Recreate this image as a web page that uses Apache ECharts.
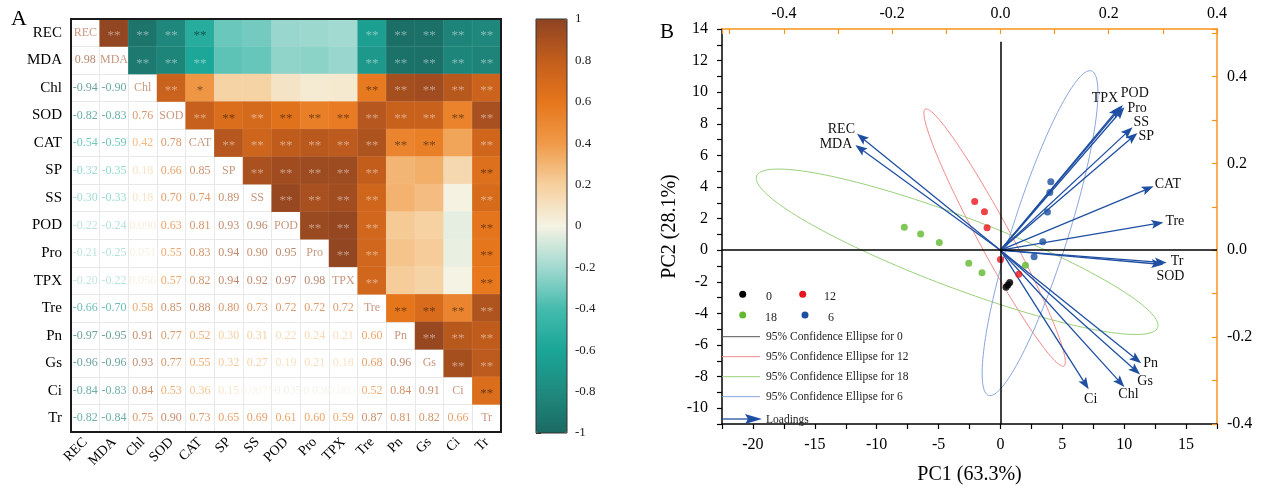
<!DOCTYPE html>
<html><head><meta charset="utf-8">
<script src="https://cdn.jsdelivr.net/npm/echarts@6/dist/echarts.min.js"></script>
<style>html,body{margin:0;padding:0;background:#fff}#c{width:1261px;height:490px}</style>
</head><body><div id="c"></div>
<script>
// ---------------- Panel A data ----------------
const vars = ['REC','MDA','Chl','SOD','CAT','SP','SS','POD','Pro','TPX','Tre','Pn','Gs','Ci','Tr'];
const corrLower = [
 [],
 [0.98],
 [-0.94,-0.90],
 [-0.82,-0.83,0.76],
 [-0.54,-0.59,0.42,0.78],
 [-0.32,-0.35,0.18,0.66,0.85],
 [-0.30,-0.33,0.18,0.70,0.74,0.89],
 [-0.22,-0.24,0.090,0.63,0.81,0.93,0.96],
 [-0.21,-0.25,0.051,0.55,0.83,0.94,0.90,0.95],
 [-0.20,-0.22,0.056,0.57,0.82,0.94,0.92,0.97,0.98],
 [-0.66,-0.70,0.58,0.85,0.88,0.80,0.73,0.72,0.72,0.72],
 [-0.97,-0.95,0.91,0.77,0.52,0.30,0.31,0.22,0.24,0.21,0.60],
 [-0.96,-0.96,0.93,0.77,0.55,0.32,0.27,0.19,0.21,0.18,0.68,0.96],
 [-0.84,-0.83,0.84,0.53,0.36,0.15,0.0071,-0.035,-0.030,-0.0032,0.52,0.84,0.91],
 [-0.82,-0.84,0.75,0.90,0.73,0.65,0.69,0.61,0.60,0.59,0.87,0.81,0.82,0.66]
];
const colorbarMin = -1, colorbarMax = 1, colorbarStep = 0.2;

// ---------------- Panel B data ----------------
const groupNames = ['0','12','18','6'];
const scores0  = [[0.45,-2.35],[0.6,-2.2],[0.75,-2.05]];
const scores12 = [[-2.08,3.09],[-1.29,2.44],[-1.08,1.42],[0.0,-0.59],[1.48,-1.53]];
const scores18 = [[-7.77,1.45],[-6.45,1.03],[-4.94,0.49],[-2.56,-0.82],[-1.49,-1.42],[2.02,-0.95]];
const scores6  = [[4.07,4.33],[3.99,3.65],[3.8,2.42],[3.42,0.53],[2.72,-0.41]];
const ellipseCenter = [[0.6,-2.2],[-0.47,0.8],[-3.5,-0.1],[3.2,1.08]];
const ellipseAxisA  = [[0.32,0.19],[5.6,-8.13],[16.2,-4.8],[4.15,10.27]];
const ellipseAxisB  = [[-0.1,0.12],[1.14,0.47],[1.05,2.09],[2.16,-0.52]];
const loadNames = ['REC','MDA','TPX','POD','Pro','SS','SP','CAT','Tre','Tr','SOD','Pn','Gs','Chl','Ci'];
const loadPC1 = [-0.265,-0.268,0.221,0.226,0.229,0.244,0.253,0.283,0.301,0.307,0.301,0.260,0.258,0.229,0.163];
const loadPC2 = [0.268,0.242,0.331,0.334,0.329,0.283,0.270,0.147,0.064,-0.029,-0.033,-0.260,-0.286,-0.315,-0.320];
const pc1Name = 'PC1 (63.3%)', pc2Name = 'PC2 (28.1%)';

// ---------------- styles ----------------
const serif = '"Liberation Serif","Times New Roman",serif';
const stops = ['#1a6a62','#1f8a7f','#1aa697','#45bbad','#a2d9d0','#f5f3e4','#f6cf9e','#f09a48','#e6761c','#c25d1c','#8d4322'];
const groupColors = ['#000000','#e8141c','#62b92e','#1c4fa0'];
const ellipseColors = ['#333333','#f28a8c','#9ad07a','#8aa6dc'];
const arrowColor = '#1f4fa3';
const orange = '#f7941d';
const loadLabelStyle = {
 REC:{align:'right',dx:-2,dy:-4}, MDA:{align:'right',dx:-3,dy:-1},
 TPX:{align:'right',dx:-2,dy:-8}, POD:{align:'left',dx:-2,dy:-12},
 Pro:{align:'left',dx:3,dy:1}, SS:{align:'left',dx:1,dy:-5},
 SP:{align:'left',dx:1,dy:3}, CAT:{align:'left',dx:1,dy:-2},
 Tre:{align:'left',dx:2,dy:-1}, Tr:{align:'left',dx:4,dy:-1},
 SOD:{align:'center',dx:7,dy:12}, Pn:{align:'left',dx:2,dy:0},
 Gs:{align:'center',dx:5,dy:7}, Chl:{align:'center',dx:4,dy:7},
 Ci:{align:'center',dx:2,dy:10}
};

function hex2rgb(h){return [parseInt(h.slice(1,3),16),parseInt(h.slice(3,5),16),parseInt(h.slice(5,7),16)];}
function colorAt(v, alpha){
  const t=(v+1)/2*(stops.length-1);
  const i=Math.min(stops.length-2,Math.max(0,Math.floor(t))); const f=t-i;
  const a=hex2rgb(stops[i]), b=hex2rgb(stops[i+1]);
  const c=a.map((x,k)=>Math.round(x+(b[k]-x)*f));
  return 'rgba('+c.join(',')+','+alpha+')';
}
function fmt(v){ return Math.abs(v)>=0.1 ? v.toFixed(2) : v.toPrecision(2); }

// full matrix
const n = vars.length;
const R = vars.map((_,i)=>vars.map((_,j)=> i===j?1:(i>j?corrLower[i][j]:corrLower[j][i])));
const heatData=[], starData=[], numData=[], diagData=[];
for(let i=0;i<n;i++) for(let j=0;j<n;j++){
  const r=R[i][j];
  if(j>i){
    heatData.push([j,i,r]);
    const a=Math.abs(r);
    if(a>=0.4){
      const light = (r>=0.69 || r<=-0.55);
      starData.push({value:[j,i], star: a>=0.5?'**':'*', label:{color: light?'rgba(255,255,255,0.55)':'rgba(0,0,0,0.62)'}});
    }
  } else if(j<i){
    numData.push({value:[j,i], txt: fmt(r), label:{color: colorAt(r,0.82)}});
  } else {
    diagData.push({value:[j,i], txt: vars[i]});
  }
}

const chart = echarts.init(document.getElementById('c'));
const textLabel = (size)=>({show:true, position:'inside', fontFamily:serif, fontSize:size, formatter:p=>p.data.txt});

const option = {
  animation:false,
  backgroundColor:'#fff',
  grid:[
    {left:71, top:19, width:430, height:413, containLabel:false},
    {left:722, top:29, width:495, height:400, containLabel:false},
    {left:536, top:19, width:31, height:414, containLabel:false}
  ],
  xAxis:[
    {type:'category', gridIndex:0, data:vars, position:'bottom',
     axisLine:{show:false}, axisTick:{show:false},
     splitLine:{show:true, lineStyle:{color:'#e8e8e8', width:1}},
     axisLabel:{rotate:45, fontFamily:serif, fontSize:14, color:'#000', margin:8, interval:0}},
    {type:'value', gridIndex:1, position:'bottom', min:-22.5, max:17.5, interval:2.5,
     axisLine:{show:true, onZero:false, lineStyle:{color:'#000', width:1.5}},
     axisTick:{show:true, inside:false, length:5, lineStyle:{color:'#000', width:1.2}},
     splitLine:{show:false},
     axisLabel:{fontFamily:serif, fontSize:16, color:'#000', margin:13,
       formatter:v=> (Math.abs(v/5-Math.round(v/5))<1e-6 ? String(Math.round(v)) : '')},
     name:pc1Name, nameLocation:'middle', nameGap:41, nameTextStyle:{fontFamily:serif, fontSize:20, color:'#000'}},
    {type:'value', gridIndex:1, position:'top', min:-0.4*22.5/17.5, max:0.4, splitNumber:9,
     axisLine:{show:true, onZero:false, lineStyle:{color:orange, width:1.5}},
     axisTick:{show:true, inside:true, length:5, lineStyle:{color:orange, width:1.2}},
     splitLine:{show:false},
     axisLabel:{fontFamily:serif, fontSize:16, color:'#000', margin:7,
       formatter:v=>{const k=v/0.2; return Math.abs(k-Math.round(k))<1e-6 ? (Math.abs(v)<1e-9?0:v).toFixed(1) : '';}}},
    {type:'value', gridIndex:2, min:0, max:1, show:false}
  ],
  yAxis:[
    {type:'category', gridIndex:0, data:vars, inverse:true,
     axisLine:{show:false}, axisTick:{show:false},
     splitLine:{show:true, lineStyle:{color:'#e8e8e8', width:1}},
     axisLabel:{fontFamily:serif, fontSize:15, color:'#000', margin:9, interval:0}},
    {type:'value', gridIndex:1, position:'left', min:-11, max:14, interval:1,
     axisLine:{show:true, onZero:false, lineStyle:{color:'#000', width:1.5}},
     axisTick:{show:true, inside:false, length:5, lineStyle:{color:'#000', width:1.2}},
     splitLine:{show:false},
     axisLabel:{fontFamily:serif, fontSize:16, color:'#000', margin:14,
       formatter:v=> (Math.round(v)%2===0 ? String(Math.round(v)) : '')},
     name:pc2Name, nameLocation:'middle', nameGap:42, nameRotate:90, nameTextStyle:{fontFamily:serif, fontSize:20, color:'#000'}},
    {type:'value', gridIndex:1, position:'right', min:-0.4, max:0.4*14/11, splitNumber:9,
     axisLine:{show:true, onZero:false, lineStyle:{color:orange, width:1.5}},
     axisTick:{show:true, inside:true, length:5, lineStyle:{color:orange, width:1.2}},
     splitLine:{show:false},
     axisLabel:{fontFamily:serif, fontSize:16, color:'#000', margin:10,
       formatter:v=>{const k=v/0.2; return Math.abs(k-Math.round(k))<1e-6 ? (Math.abs(v)<1e-9?0:v).toFixed(1) : '';}}},
    {type:'value', gridIndex:2, position:'right', min:colorbarMin, max:colorbarMax, interval:colorbarStep,
     axisLine:{show:false}, axisTick:{show:true, inside:false, length:5, lineStyle:{color:'#333', width:1}},
     splitLine:{show:false},
     axisLabel:{fontFamily:serif, fontSize:13, color:'#222', margin:8}}
  ],
  visualMap:{type:'continuous', min:colorbarMin, max:colorbarMax, seriesIndex:0, dimension:2,
    left:536, top:19, itemWidth:31, itemHeight:414, padding:0, calculable:false, showLabel:false,
    inRange:{color:stops}, hoverLink:false},
  series:[
    {type:'heatmap', xAxisIndex:0, yAxisIndex:0, data:heatData,
     itemStyle:{borderColor:'rgba(255,255,255,0.12)', borderWidth:0.6}, emphasis:{disabled:true}},
    {type:'scatter', xAxisIndex:0, yAxisIndex:0, data:starData, symbolSize:1, itemStyle:{color:'rgba(0,0,0,0)'},
     label:{show:true, position:'inside', offset:[0,3], fontFamily:serif, fontSize:13, formatter:p=>p.data.star}, silent:true, z:5},
    {type:'scatter', xAxisIndex:0, yAxisIndex:0, data:numData, symbolSize:1, itemStyle:{color:'rgba(0,0,0,0)'},
     label:textLabel(12), silent:true, z:5},
    {type:'scatter', xAxisIndex:0, yAxisIndex:0, data:diagData, symbolSize:1, itemStyle:{color:'rgba(0,0,0,0)'},
     label:Object.assign(textLabel(12),{color:'rgba(178,110,75,0.9)'}), silent:true, z:5},
    // ellipses
    {type:'custom', xAxisIndex:1, yAxisIndex:1, coordinateSystem:'cartesian2d',
     data:ellipseCenter.map((c,i)=>[c[0],c[1],i]), encode:{x:0,y:1}, silent:true, z:2,
     renderItem:(params, api)=>{
       const i=api.value(2); const c=ellipseCenter[i], a=ellipseAxisA[i], b=ellipseAxisB[i];
       const pts=[];
       for(let k=0;k<=160;k++){const t=k/160*2*Math.PI;
         pts.push(api.coord([c[0]+a[0]*Math.cos(t)+b[0]*Math.sin(t), c[1]+a[1]*Math.cos(t)+b[1]*Math.sin(t)]));}
       return {type:'polyline', shape:{points:pts}, style:{stroke:ellipseColors[i], lineWidth:1, fill:null}};
     }},
    // loadings
    {type:'custom', xAxisIndex:2, yAxisIndex:2, coordinateSystem:'cartesian2d',
     data:loadNames.map((nm,i)=>[loadPC1[i],loadPC2[i],i]), encode:{x:0,y:1}, silent:true, z:3,
     renderItem:(params, api)=>{
       const idx=api.value(2); const o=api.coord([0,0]); const p=api.coord([api.value(0),api.value(1)]);
       const dx=p[0]-o[0], dy=p[1]-o[1]; const L=Math.hypot(dx,dy); const ux=dx/L, uy=dy/L;
       const hl=12, hw=4.5; const bx=p[0]-ux*hl, by=p[1]-uy*hl;
       const nm=loadNames[idx]; const st=loadLabelStyle[nm];
       return {type:'group', children:[
         {type:'line', shape:{x1:o[0],y1:o[1],x2:bx+ux*3,y2:by+uy*3}, style:{stroke:arrowColor, lineWidth:1.3}},
         {type:'polygon', shape:{points:[[p[0],p[1]],[bx-uy*hw,by+ux*hw],[bx+ux*2.5,by+uy*2.5],[bx+uy*hw,by-ux*hw]]}, style:{fill:arrowColor}},
         {type:'text', x:p[0]+st.dx, y:p[1]+st.dy, style:{text:nm, fill:'#111', fontFamily:serif, fontSize:14, align:st.align, verticalAlign:'middle'}}
       ]};
     }},
    // score groups
    {type:'scatter', name:groupNames[0], xAxisIndex:1, yAxisIndex:1, data:scores0, symbolSize:7, itemStyle:{color:groupColors[0]}, z:4, silent:true,
     markLine:{silent:true, symbol:['none','none'], label:{show:false}, lineStyle:{color:'#000', width:1.5, type:'solid'},
       data:[[{coord:[0,-11]},{coord:[0,13.2]}],[{coord:[-22.5,0]},{coord:[17.5,0]}]]}},
    {type:'scatter', name:groupNames[1], xAxisIndex:1, yAxisIndex:1, data:scores12, symbolSize:7, itemStyle:{color:groupColors[1]}, z:4, silent:true},
    {type:'scatter', name:groupNames[2], xAxisIndex:1, yAxisIndex:1, data:scores18, symbolSize:7, itemStyle:{color:groupColors[2]}, z:4, silent:true},
    {type:'scatter', name:groupNames[3], xAxisIndex:1, yAxisIndex:1, data:scores6, symbolSize:7, itemStyle:{color:groupColors[3]}, z:4, silent:true}
  ],
  graphic:[
    {type:'rect', shape:{x:71,y:19,width:430,height:413}, style:{fill:null, stroke:'#1a1a1a', lineWidth:2}, z:100, silent:true},
    {type:'rect', shape:{x:536,y:19,width:31,height:414}, style:{fill:null, stroke:'#333', lineWidth:1}, z:100, silent:true},
    {type:'text', left:11, top:8, style:{text:'A', fontFamily:serif, fontSize:22, fill:'#000'}},
    {type:'text', left:660, top:22, style:{text:'B', fontFamily:serif, fontSize:21, fill:'#000'}},
    // PCA legend
    {type:'circle', shape:{cx:742.7,cy:294.3,r:3.5}, style:{fill:groupColors[0]}, z:50},
    {type:'text', x:766, y:297, style:{text:groupNames[0], fontFamily:serif, fontSize:12, fill:'#222', verticalAlign:'middle'}, z:50},
    {type:'circle', shape:{cx:802.7,cy:294.3,r:3.5}, style:{fill:groupColors[1]}, z:50},
    {type:'text', x:824, y:297, style:{text:groupNames[1], fontFamily:serif, fontSize:12, fill:'#222', verticalAlign:'middle'}, z:50},
    {type:'circle', shape:{cx:742.7,cy:315,r:3.5}, style:{fill:groupColors[2]}, z:50},
    {type:'text', x:765, y:317.5, style:{text:groupNames[2], fontFamily:serif, fontSize:12, fill:'#222', verticalAlign:'middle'}, z:50},
    {type:'circle', shape:{cx:805,cy:315,r:3.5}, style:{fill:groupColors[3]}, z:50},
    {type:'text', x:828, y:317.5, style:{text:groupNames[3], fontFamily:serif, fontSize:12, fill:'#222', verticalAlign:'middle'}, z:50},
    ...[0,1,2,3].map(i=>({type:'line', shape:{x1:722,y1:336.7+20*i,x2:760,y2:336.7+20*i}, style:{stroke:ellipseColors[i]==='#333333'?'#555':ellipseColors[i], lineWidth:1}, z:50})),
    ...[0,1,2,3].map(i=>({type:'text', x:766, y:337+20*i, style:{text:'95% Confidence Ellipse for '+groupNames[i], fontFamily:serif, fontSize:11.5, fill:'#222', verticalAlign:'middle'}, z:50})),
    {type:'line', shape:{x1:722,y1:419,x2:750,y2:419}, style:{stroke:arrowColor, lineWidth:1.3}, z:50},
    {type:'polygon', shape:{points:[[762,419],[745,414],[748,419],[745,424]]}, style:{fill:arrowColor}, z:50},
    {type:'text', x:766, y:419.5, style:{text:'Loadings', fontFamily:serif, fontSize:11.5, fill:'#222', verticalAlign:'middle'}, z:50}
  ]
};
chart.setOption(option);
</script></body></html>
